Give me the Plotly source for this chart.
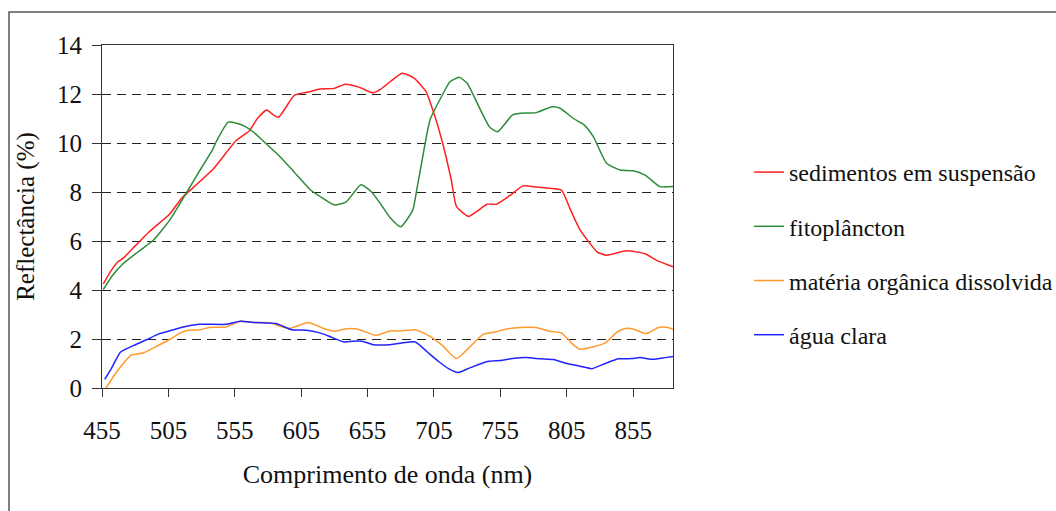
import plotly.graph_objects as go

# ---- data ----
sed_x = [456, 462, 467, 471, 480, 490, 506, 515, 524, 539, 556, 566, 572, 579, 584, 588, 600, 612, 619, 630,
         638, 649, 659, 665, 672, 681, 690, 699, 705, 711, 718, 722, 731, 737, 745, 752, 762, 772, 782, 792,
         801, 808, 815, 828, 835, 850, 864, 873, 885]
sed_y = [4.25, 4.8, 5.15, 5.3, 5.8, 6.35, 7.1, 7.75, 8.2, 8.95, 10.1, 10.5, 11.0, 11.35, 11.15, 11.05, 11.95, 12.1, 12.2, 12.23,
         12.4, 12.27, 12.05, 12.2, 12.5, 12.85, 12.65, 12.1, 11.2, 10.1, 8.5, 7.4, 7.0, 7.2, 7.5, 7.5, 7.85, 8.25, 8.2, 8.15,
         8.08, 7.25, 6.45, 5.55, 5.42, 5.6, 5.48, 5.2, 4.95]

fito_x = [456, 463, 471, 482, 494, 506, 519, 530, 538, 541, 550, 557, 563, 569, 578, 588, 600, 612, 622, 630,
          639, 650, 658, 665, 672, 680, 689, 692, 697, 702, 712, 717, 724, 730, 740, 747, 753, 764, 770, 782,
          794, 800, 810, 818, 825, 835, 845, 855, 864, 875, 885]
fito_y = [4.02, 4.6, 5.08, 5.55, 6.05, 6.85, 8.0, 9.0, 9.7, 10.05, 10.85, 10.8, 10.67, 10.45, 10.0, 9.5, 8.8, 8.08, 7.72, 7.47,
          7.6, 8.3, 8.0, 7.5, 6.95, 6.58, 7.26, 8.08, 9.58, 10.94, 12.03, 12.5, 12.68, 12.44, 11.35, 10.64, 10.46, 11.14, 11.21, 11.24,
          11.48, 11.42, 11.0, 10.74, 10.26, 9.17, 8.9, 8.87, 8.69, 8.22, 8.22]

mat_x = [458, 464, 471, 477, 486, 496, 506, 514, 520, 529, 536, 548, 559, 569, 581, 596, 610, 622, 630, 638,
         647, 661, 672, 680, 691, 702, 711, 722, 732, 742, 751, 759, 770, 782, 792, 801, 809, 815, 825, 834,
         843, 849, 855, 865, 874, 881, 885]
mat_y = [0.0, 0.5, 1.0, 1.34, 1.43, 1.7, 1.98, 2.25, 2.36, 2.38, 2.47, 2.49, 2.72, 2.67, 2.66, 2.43, 2.67, 2.43, 2.32, 2.41,
         2.41, 2.15, 2.33, 2.33, 2.38, 2.11, 1.75, 1.2, 1.68, 2.19, 2.29, 2.4, 2.47, 2.47, 2.32, 2.25, 1.81, 1.58, 1.68, 1.84,
         2.29, 2.43, 2.41, 2.22, 2.47, 2.47, 2.4]

agua_x = [457, 462, 469, 479, 489, 497, 509, 516, 528, 549, 559, 571, 586, 598, 609, 619, 627, 637, 644, 651,
          659, 672, 682, 691, 700, 709, 716, 723, 732, 746, 755, 764, 774, 785, 795, 805, 815, 824, 834, 844,
          854, 860, 870, 879, 885]
agua_y = [0.35, 0.79, 1.47, 1.74, 1.98, 2.19, 2.38, 2.49, 2.6, 2.6, 2.72, 2.67, 2.63, 2.38, 2.36, 2.25, 2.09, 1.88, 1.91, 1.91,
          1.77, 1.77, 1.85, 1.88, 1.47, 1.06, 0.79, 0.63, 0.82, 1.09, 1.12, 1.2, 1.24, 1.19, 1.16, 1.0, 0.89, 0.79, 1.0, 1.19,
          1.2, 1.24, 1.17, 1.24, 1.29]

x_ticks = [455, 505, 555, 605, 655, 705, 755, 805, 855]
y_ticks = [0, 2, 4, 6, 8, 10, 12, 14]

series = [
    ("sedimentos em suspensão", sed_x, sed_y, "#ff2020"),
    ("fitoplâncton", fito_x, fito_y, "#2e8b3a"),
    ("matéria orgânica dissolvida", mat_x, mat_y, "#ff9a2e"),
    ("água clara", agua_x, agua_y, "#2323ff"),
]

FONT = "Times New Roman"
TXT = "#111111"

fig = go.Figure()
for i, (name, xs, ys, col) in enumerate(series):
    fig.add_trace(go.Scatter(
        x=xs, y=ys, name=name, mode="lines", legendgroup=f"g{i}",
        line=dict(color=col, width=1.5, shape="spline", smoothing=0.5),
    ))

W, H = 1056, 511
L, R, T, B = 102, 383, 45, 123

fig.update_layout(
    width=W, height=H,
    margin=dict(l=L, r=R, t=T, b=B, autoexpand=False),
    paper_bgcolor="white", plot_bgcolor="white",
    legend=dict(
        x=(749 - L) / (W - L - R), y=(388 - 150) / (388 - 45),
        xanchor="left", yanchor="top",
        font=dict(family=FONT, size=24, color=TXT),
        tracegroupgap=20, bgcolor="rgba(0,0,0,0)",
    ),
    xaxis=dict(
        range=[455, 885], tickmode="array", tickvals=x_ticks,
        ticktext=[str(v) for v in x_ticks],
        showgrid=False, zeroline=False,
        showline=True, linecolor="#333333", linewidth=1.2, mirror=True,
        ticks="outside", ticklen=8, tickcolor="#333333", tickwidth=1.2,
        ticklabelstandoff=12,
        tickfont=dict(family=FONT, size=25, color=TXT),
        title=dict(text="Comprimento de onda (nm)", standoff=21,
                   font=dict(family=FONT, size=26, color=TXT)),
    ),
    yaxis=dict(
        range=[0, 14], tickmode="array", tickvals=y_ticks,
        ticktext=[str(v) for v in y_ticks],
        showgrid=True, gridcolor="#222222", gridwidth=1.2, griddash="9px,6px",
        zeroline=False,
        showline=True, linecolor="#333333", linewidth=1.2, mirror=True,
        ticks="outside", ticklen=9, tickcolor="#333333", tickwidth=1.2,
        ticklabelstandoff=5,
        tickfont=dict(family=FONT, size=25, color=TXT),
        title=dict(text="Reflectância (%)", standoff=15,
                   font=dict(family=FONT, size=25, color=TXT)),
    ),
)

# outer frame around the chart (extends beyond the bottom/right edges as in the reference)
pw, ph = W - L - R, H - T - B
fig.add_shape(type="rect", xref="paper", yref="paper",
              x0=(9 - L) / pw, x1=(W + 20 - L) / pw,
              y0=(H - T - B - (H + 20 - T)) / ph, y1=(H - B - 12) / ph,
              line=dict(color="#555555", width=1.5), fillcolor="rgba(0,0,0,0)", layer="below")

fig.write_html("out.html")
